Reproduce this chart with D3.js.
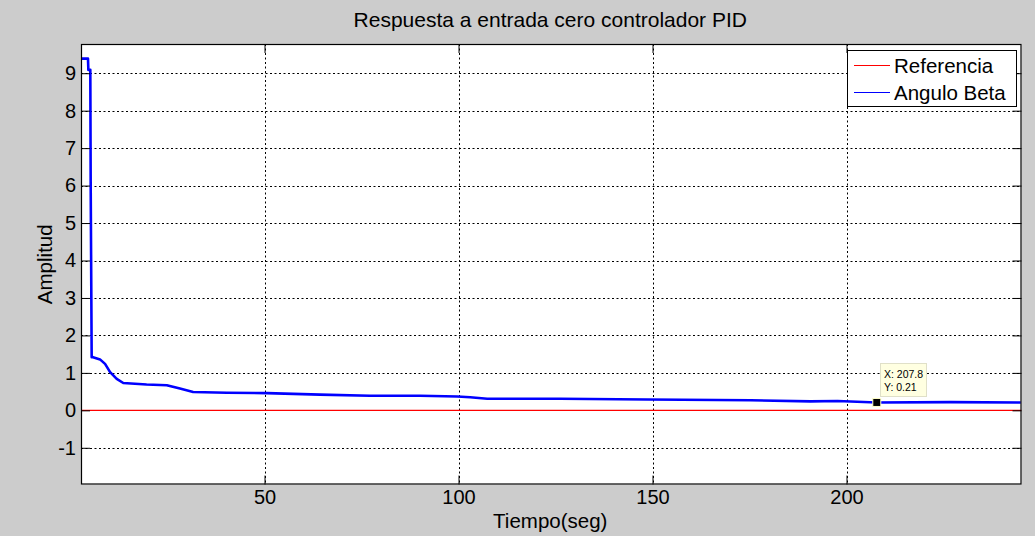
<!DOCTYPE html>
<html>
<head>
<meta charset="utf-8">
<script src="https://cdn.jsdelivr.net/npm/d3@7"></script>
<style>
  html, body { margin: 0; padding: 0; background: #cccccc; }
  svg { display: block; font-family: "Liberation Sans", Arial, sans-serif; }
</style>
</head>
<body>
<script>
// ---- data ----
const chartTitle = "Respuesta a entrada cero controlador PID";
const xLabel = "Tiempo(seg)";
const yLabel = "Amplitud";
const seriesNames = ["Referencia", "Angulo Beta"];
const xTicks = [50, 100, 150, 200];
const yTicks = [-1, 0, 1, 2, 3, 4, 5, 6, 7, 8, 9];
const xDomain = [2.7, 245.1];
const yDomain = [-1.98, 9.78];

const refTime = [2.7, 245.1];
const refValue = [0, 0];

const betaTime = [2.7, 4.5, 4.6, 5.1, 5.2, 5.45, 5.8, 7.6, 8.9, 10.2, 11.9, 13.6, 19.6, 24.8, 28.2, 31.6, 40.3, 50.6, 64.3, 77.2, 90.1, 99.7, 103.0, 107.4, 126.2, 148.7, 175.3, 190.7, 197.7, 207.8, 226.8, 244.9];
const betaValue = [9.39, 9.39, 9.09, 9.09, 6.0, 1.42, 1.42, 1.36, 1.24, 1.02, 0.84, 0.73, 0.69, 0.67, 0.58, 0.49, 0.47, 0.46, 0.42, 0.39, 0.39, 0.37, 0.35, 0.31, 0.31, 0.29, 0.27, 0.24, 0.25, 0.21, 0.22, 0.21];

const tipX = 207.8, tipY = 0.21;

// ---- drawing ----
const W = 1035, H = 536;
const L = 81, R = 1021.5, T = 44, B = 484.5;

const svg = d3.select("body").append("svg").attr("width", W).attr("height", H);
svg.append("rect").attr("width", W).attr("height", H).attr("fill", "#cccccc");

const x = d3.scaleLinear().domain(xDomain).range([L, R]);
const y = d3.scaleLinear().domain(yDomain).range([B, T]);

svg.append("rect").attr("x", L).attr("y", T).attr("width", R - L).attr("height", B - T).attr("fill", "#ffffff");

// grid
const grid = svg.append("g");
grid.selectAll("line.gx").data(xTicks).join("line")
  .attr("x1", d => Math.round(x(d)) + 0.5).attr("x2", d => Math.round(x(d)) + 0.5)
  .attr("y1", T).attr("y2", B)
  .attr("stroke", "#000").attr("stroke-width", 1).attr("stroke-dasharray", "2,2.5");
grid.selectAll("line.gy").data(yTicks).join("line")
  .attr("y1", d => Math.round(y(d)) + 0.5).attr("y2", d => Math.round(y(d)) + 0.5)
  .attr("x1", L).attr("x2", R)
  .attr("stroke", "#000").attr("stroke-width", 1).attr("stroke-dasharray", "2,2.5");

// clip
svg.append("clipPath").attr("id", "clip").append("rect")
  .attr("x", L).attr("y", T).attr("width", R - L).attr("height", B - T);

const line = d3.line().x(d => x(d[0])).y(d => y(d[1]));
const plot = svg.append("g").attr("clip-path", "url(#clip)");
plot.append("path").datum(refTime.map((t, i) => [t, refValue[i]]))
  .attr("d", line).attr("fill", "none").attr("stroke", "#ff0000").attr("stroke-width", 1.2);
plot.append("path").datum(betaTime.map((t, i) => [t, betaValue[i]]))
  .attr("d", line).attr("fill", "none").attr("stroke", "#0000ff").attr("stroke-width", 2.6)
  .attr("stroke-linejoin", "round");

// axes (inward ticks on all sides)
const tl = 9;
const fmt = d => String(d);
const axB = d3.axisBottom(x).tickValues(xTicks).tickSize(-tl).tickPadding(5).tickFormat(fmt);
const axT = d3.axisTop(x).tickValues(xTicks).tickSize(-tl).tickFormat("");
const axL = d3.axisLeft(y).tickValues(yTicks).tickSize(-tl).tickPadding(5).tickFormat(fmt);
const axR = d3.axisRight(y).tickValues(yTicks).tickSize(-tl).tickFormat("");

function styleAxis(g) {
  g.select(".domain").remove();
  g.selectAll(".tick line").attr("stroke", "#000");
  g.selectAll(".tick text").attr("fill", "#000").style("font-size", "20px")
    .style("font-family", "'Liberation Sans', Arial, sans-serif");
}
svg.append("g").attr("transform", `translate(0,${B})`).call(axB).call(styleAxis);
svg.append("g").attr("transform", `translate(0,${T})`).call(axT).call(styleAxis);
svg.append("g").attr("transform", `translate(${L},0)`).call(axL).call(styleAxis);
svg.append("g").attr("transform", `translate(${R},0)`).call(axR).call(styleAxis);

// box
svg.append("rect").attr("x", L + 0.5).attr("y", T + 0.5).attr("width", R - L - 1).attr("height", B - T - 1)
  .attr("fill", "none").attr("stroke", "#000").attr("stroke-width", 1.2);

// labels
svg.append("text").attr("x", (L + R) / 2 - 1).attr("y", 27).attr("text-anchor", "middle")
  .style("font-size", "21px").attr("fill", "#000").text(chartTitle);
svg.append("text").attr("x", (L + R) / 2 - 1).attr("y", 528).attr("text-anchor", "middle")
  .style("font-size", "20.5px").attr("fill", "#000").text(xLabel);
svg.append("text").attr("transform", `translate(52,${(T + B) / 2}) rotate(-90)`).attr("text-anchor", "middle")
  .style("font-size", "20.5px").attr("fill", "#000").text(yLabel);

// data tip
const mx = x(tipX), my = y(tipY);
svg.append("rect").attr("x", 880.5).attr("y", 363.5).attr("width", 46).attr("height", 33)
  .attr("fill", "#ffffe1").attr("stroke", "#e0e0c8");
svg.append("text").attr("x", 884).attr("y", 378).style("font-size", "10.5px").attr("fill", "#000").text("X: " + tipX);
svg.append("text").attr("x", 884).attr("y", 391).style("font-size", "10.5px").attr("fill", "#000").text("Y: " + tipY);
svg.append("rect").attr("x", mx - 4).attr("y", my - 4).attr("width", 8).attr("height", 8)
  .attr("fill", "#000").attr("stroke", "#ffffc8").attr("stroke-width", 1);

// legend
const lg = svg.append("g");
lg.append("rect").attr("x", 847.5).attr("y", 50.5).attr("width", 169).attr("height", 56)
  .attr("fill", "#fff").attr("stroke", "#000").attr("stroke-width", 1);
const legColors = ["#ff0000", "#0000ff"];
seriesNames.forEach((n, i) => {
  const cy = 65 + i * 27;
  lg.append("line").attr("x1", 854).attr("x2", 890).attr("y1", cy + 0.5).attr("y2", cy + 0.5)
    .attr("stroke", legColors[i]).attr("stroke-width", 1);
  lg.append("text").attr("x", 894).attr("y", cy + 7.5).style("font-size", "20.5px").attr("fill", "#000").text(n);
});
</script>
</body>
</html>
